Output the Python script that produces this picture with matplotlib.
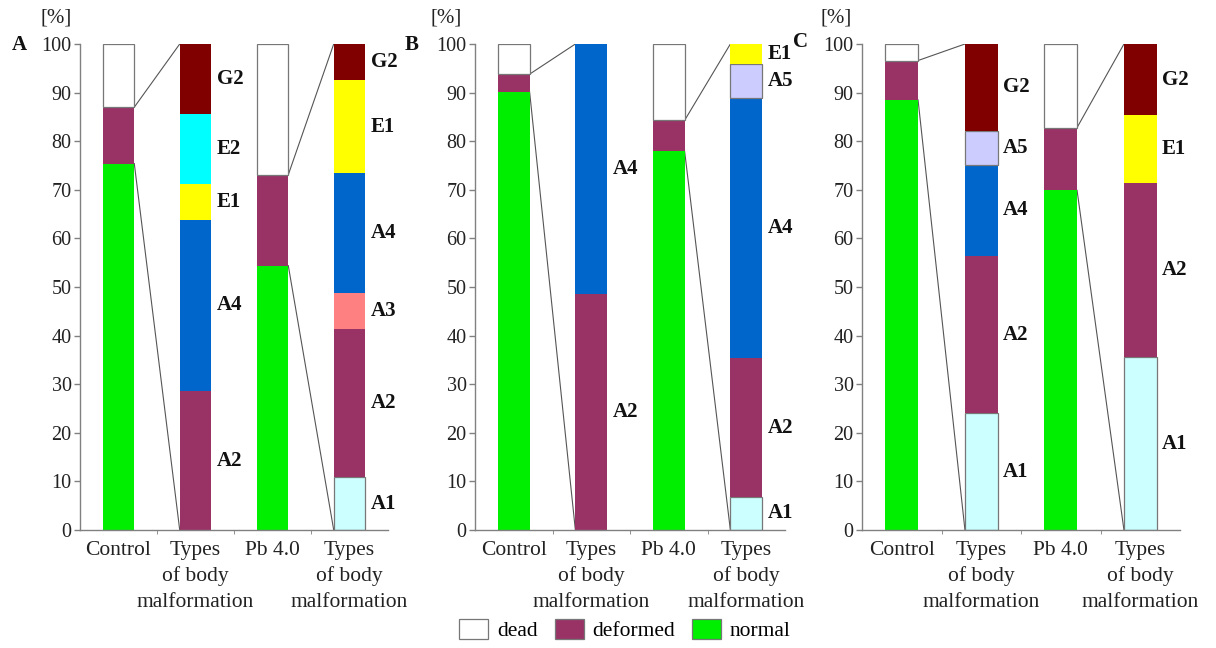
import matplotlib
matplotlib.use("Agg")
import matplotlib.pyplot as plt
from matplotlib.patches import Patch

plt.rcParams['font.family'] = ['Liberation Serif', 'DejaVu Serif']

# ---------------- data ----------------
panels = ['A', 'B', 'C']
categories = ['Control', 'Types\nof body\nmalformation', 'Pb 4.0', 'Types\nof body\nmalformation']
yticks = [0, 10, 20, 30, 40, 50, 60, 70, 80, 90, 100]

# group bars (Control, Pb 4.0) for panels A, B, C
normal_pct = [[75.4, 54.4], [90.1, 77.9], [88.5, 69.9]]
deformed_pct = [[11.6, 18.7], [3.7, 6.4], [8.1, 12.9]]
dead_pct = [[13.0, 26.9], [6.2, 15.7], [3.4, 17.2]]

# malformation types: first list = after Control, second = after Pb 4.0
types_A_control_labels = ['A2', 'A4', 'E1', 'E2', 'G2']
types_A_control_values = [28.6, 35.2, 7.4, 14.3, 14.5]
types_A_pb_labels = ['A1', 'A2', 'A3', 'A4', 'E1', 'G2']
types_A_pb_values = [10.9, 30.5, 7.3, 24.7, 19.2, 7.4]

types_B_control_labels = ['A2', 'A4']
types_B_control_values = [48.5, 51.5]
types_B_pb_labels = ['A1', 'A2', 'A4', 'A5', 'E1']
types_B_pb_values = [6.8, 28.5, 53.5, 7.0, 4.2]

types_C_control_labels = ['A1', 'A2', 'A4', 'A5', 'G2']
types_C_control_values = [24.0, 32.3, 18.9, 7.0, 17.8]
types_C_pb_labels = ['A1', 'A2', 'E1', 'G2']
types_C_pb_values = [35.5, 35.8, 14.0, 14.7]

types_labels = [[types_A_control_labels, types_A_pb_labels],
                [types_B_control_labels, types_B_pb_labels],
                [types_C_control_labels, types_C_pb_labels]]
types_values = [[types_A_control_values, types_A_pb_values],
                [types_B_control_values, types_B_pb_values],
                [types_C_control_values, types_C_pb_values]]

# ---------------- style ----------------
type_colors = {'A1': '#ccffff', 'A2': '#993366', 'A3': '#ff8080', 'A4': '#0066cc',
               'A5': '#ccccff', 'E1': '#ffff00', 'E2': '#00ffff', 'G2': '#800000'}
light = {'A1', 'A5'}
c_normal = '#00ee00'
c_deformed = '#993366'
c_dead = '#ffffff'
edge = '#777777'
spine_c = '#808080'

W, H = 1216, 648
fig = plt.figure(figsize=(W / 100, H / 100), dpi=100)

axes_px = [(80, 388), (475, 785), (862, 1180)]
y0_px, y1_px = 530, 44
letter_px = [(12, 45), (405, 45), (793, 42)]
pct_px = [56, 446, 836]
bw = 0.41
line_offsets_pt = [15.0, 33.5, 52.0]

for p, (xl, xr) in enumerate(axes_px):
    ax = fig.add_axes([xl / W, 1 - y0_px / H, (xr - xl) / W, (y0_px - y1_px) / H])
    ax.set_xlim(-0.5, 3.5)
    ax.set_ylim(0, 100)
    for s in ['top', 'right']:
        ax.spines[s].set_visible(False)
    for s in ['left', 'bottom']:
        ax.spines[s].set_color(spine_c)
        ax.spines[s].set_linewidth(1.0)

    # group bars at positions 0 and 2
    for g, xpos in enumerate([0, 2]):
        n = normal_pct[p][g]
        d = deformed_pct[p][g]
        dd = dead_pct[p][g]
        ax.bar(xpos, n, bw, color=c_normal, edgecolor='none', zorder=2)
        ax.bar(xpos, d, bw, bottom=n, color=c_deformed, edgecolor='none', zorder=2)
        ax.bar(xpos, dd, bw, bottom=n + d, color=c_dead, edgecolor=edge, linewidth=0.9, zorder=2)

        # type bars at positions 1 and 3
        tx = xpos + 1
        bottom = 0.0
        for lab, val in zip(types_labels[p][g], types_values[p][g]):
            ec = edge if lab in light else 'none'
            ax.bar(tx, val, bw, bottom=bottom, color=type_colors[lab], edgecolor=ec,
                   linewidth=0.9, zorder=2)
            ax.annotate(lab, xy=(tx + bw / 2, bottom + val / 2), xytext=(4, 0),
                        textcoords='offset points', ha='left', va='center',
                        fontsize=15, fontweight='bold', color='#111111')
            bottom += val

        # connecting lines
        ax.plot([xpos + bw / 2, tx - bw / 2], [n + d, 100], color='#555555', lw=0.8, zorder=1)
        ax.plot([xpos + bw / 2, tx - bw / 2], [n, 0], color='#555555', lw=0.8, zorder=1)

    ax.set_yticks(yticks)
    ax.set_yticklabels([str(v) for v in yticks])
    ax.tick_params(axis='y', direction='out', length=4, width=1, color=spine_c,
                   labelsize=14.5, pad=2, labelcolor='#222222')
    ax.set_xticks(range(4))
    ax.set_xticklabels([])
    ax.set_xticks([0.5, 1.5, 2.5], minor=True)
    ax.tick_params(axis='x', which='major', length=0)
    ax.tick_params(axis='x', which='minor', length=3, color=spine_c)

    # category labels, one text per line
    for i, cat in enumerate(categories):
        for j, line in enumerate(cat.split('\n')):
            ax.annotate(line, xy=(i, 0), xycoords=('data', 'axes fraction'),
                        xytext=(0, -line_offsets_pt[j]), textcoords='offset points',
                        ha='center', va='center', fontsize=15.5, color='#222222',
                        annotation_clip=False)

    fig.text(letter_px[p][0] / W, 1 - letter_px[p][1] / H, panels[p], fontsize=15,
             fontweight='bold', ha='left', va='center', color='#111111')
    fig.text(pct_px[p] / W, 1 - 18 / H, '[%]', fontsize=15, ha='center', va='center',
             color='#222222')

handles = [Patch(facecolor=c_dead, edgecolor=edge, linewidth=0.9, label='dead'),
           Patch(facecolor=c_deformed, edgecolor=edge, linewidth=0.9, label='deformed'),
           Patch(facecolor=c_normal, edgecolor=edge, linewidth=0.9, label='normal')]
fig.legend(handles=handles, loc='center', bbox_to_anchor=(625 / W, 1 - 630 / H), ncol=3,
           frameon=False, fontsize=15.5, handlelength=1.35, handleheight=1.1,
           handletextpad=0.4, columnspacing=0.8, borderpad=0, borderaxespad=0)

fig.savefig('out.png', dpi=100, facecolor='white')
